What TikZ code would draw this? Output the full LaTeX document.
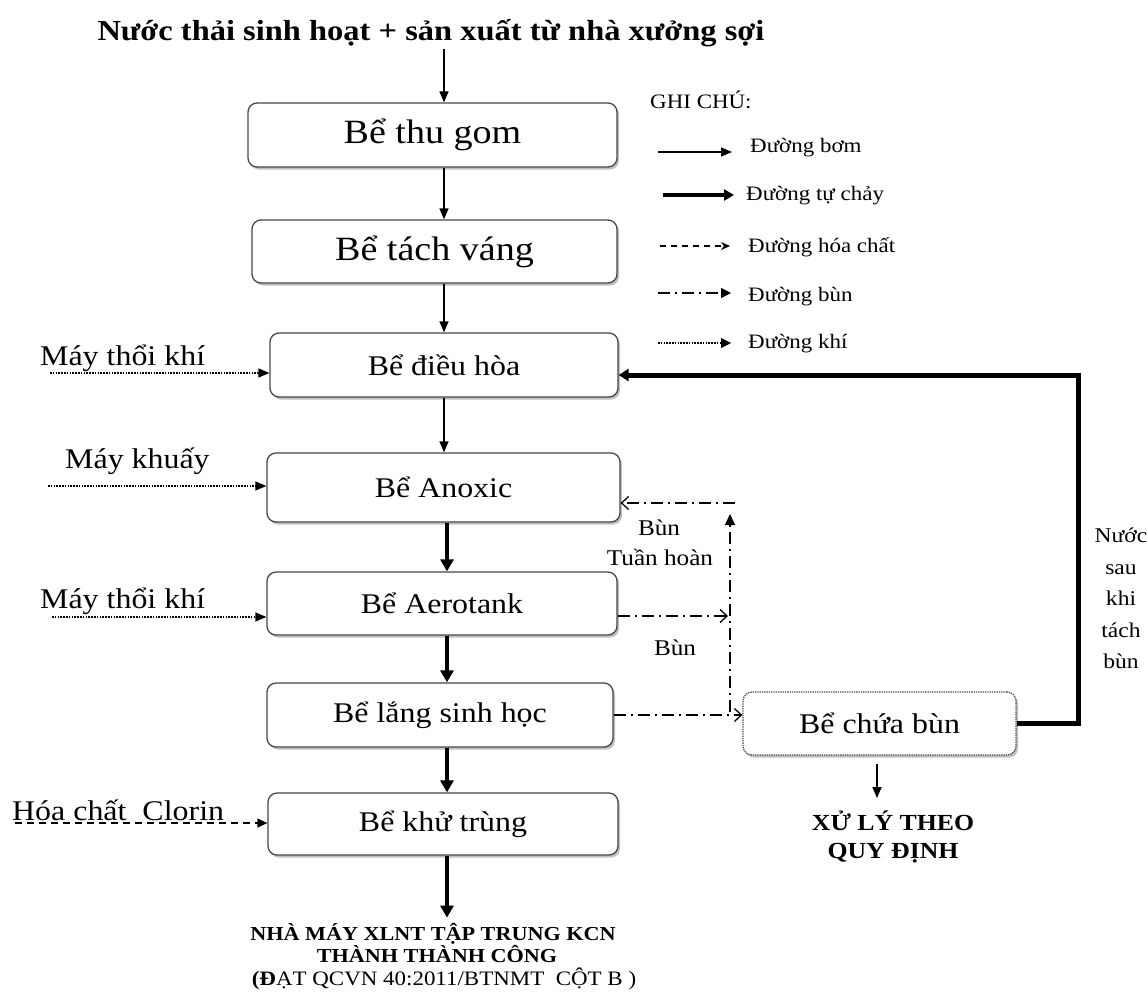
\documentclass[tikz,border=0pt]{standalone}
\usepackage{fontspec}
\setmainfont{Liberation Serif}[FakeStretch=1.12]
\usetikzlibrary{arrows.meta,shadows}

\begin{document}
\begin{tikzpicture}[x=1pt,y=-1pt,
  tank/.style={draw=black!72, line width=1.3pt, rounded corners=9pt, fill=white,
    inner sep=0pt, align=center,
    drop shadow={shadow xshift=2pt,shadow yshift=-2.5pt,fill=black!35,opacity=0.7},
    font=\fontsize{28.5}{34}\selectfont},
  bigtank/.style={tank, font=\fontsize{34}{40}\selectfont},
  lbl/.style={inner sep=0pt, font=\fontsize{28.5}{34}\selectfont},
  small/.style={inner sep=0pt, font=\fontsize{22.5}{27}\selectfont},
  side/.style={inner sep=0pt, font=\fontsize{21}{25}\selectfont, anchor=base},
  legend/.style={inner sep=0pt, font=\fontsize{20.5}{24}\selectfont, anchor=base west},
  boldlbl/.style={inner sep=0pt, font=\bfseries\fontsize{19.8}{23}\selectfont, anchor=base},
  pump/.style={line width=1.3pt, -{Triangle[length=11pt,width=9pt]}},
  gravity/.style={line width=4pt, -{Triangle[length=12pt,width=13pt]}},
  chem/.style={line width=1.3pt, dash pattern=on 7pt off 5pt, -{Triangle[length=10pt,width=9pt]}},
  sludge/.style={line width=1.3pt, dash pattern=on 12pt off 5pt on 2pt off 5pt},
  air/.style={line width=1.3pt, dash pattern=on 1.5pt off 1.3pt, -{Triangle[length=11pt,width=9pt]}},
  barb/.style={-{Straight Barb[length=7pt,width=13pt,line width=1.3pt]}}
]
\useasboundingbox (0,0) rectangle (1147,991);
\fill[white] (0,0) rectangle (1147,991);

% spine used by the vertical flow arrows
\coordinate (sp) at (444,0);
\coordinate (spb) at (447,0);

% heading
\node[inner sep=2pt, anchor=base, font=\bfseries\fontsize{29}{34}\selectfont] (title) at (431,40)
  {Nước thải sinh hoạt + sản xuất từ nhà xưởng sợi};

% treatment tanks
\node[bigtank, minimum width=369pt, minimum height=64pt] (thugom)   at (432.5,135)   {Bể thu gom};
\node[bigtank, minimum width=365pt, minimum height=63pt] (tachvang) at (434.5,251.5) {Bể tách váng};
\node[tank, minimum width=348pt, minimum height=64pt] (dieuhoa)  at (444,365)     {Bể điều hòa};
\node[tank, minimum width=353pt, minimum height=69pt] (anoxic)   at (443.5,487.5) {Bể Anoxic};
\node[tank, minimum width=350pt, minimum height=63pt] (aerotank) at (442,603.5)   {Bể Aerotank};
\node[tank, minimum width=346pt, minimum height=64pt] (lang)     at (440,715)     {Bể lắng sinh học};
\node[tank, minimum width=350pt, minimum height=62pt] (khutrung) at (443,824)     {Bể khử trùng};
\node[tank, densely dotted, minimum width=273pt, minimum height=63pt] (chuabun) at (879.5,723.5) {Bể chứa bùn};

% outlet text
\node[boldlbl] (out1) at (433,940) {NHÀ MÁY XLNT TẬP TRUNG KCN};
\node[boldlbl] (out2) at (437,962) {THÀNH THÀNH CÔNG};
\node[inner sep=0pt, anchor=base, font=\fontsize{20.5}{24}\selectfont] (out3) at (444,985)
  {\textbf{(Đ}ẠT QCVN 40:2011/BTNMT\ \ CỘT B )};

% main flow
\draw[pump] (title.south -| sp) -- (thugom.north -| sp);
\draw[pump] (thugom.south -| sp) -- (tachvang.north -| sp);
\draw[pump] (tachvang.south -| sp) -- (dieuhoa.north -| sp);
\draw[pump] (dieuhoa.south -| sp) -- (anoxic.north -| sp);
\draw[gravity] (anoxic.south -| spb) -- (aerotank.north -| spb);
\draw[gravity] (aerotank.south -| spb) -- (lang.north -| spb);
\draw[gravity] (lang.south -| spb) -- (khutrung.north -| spb);
\draw[gravity] (khutrung.south -| spb) -- ([yshift=5pt]out1.north -| spb);

% air, mixer and chemical inputs
\coordinate (a1) at (50,373);
\coordinate (a2) at (48,486);
\coordinate (a3) at (52,617);
\coordinate (c1) at (15,823);
\draw[air] (a1) -- (a1 -| dieuhoa.west);
\draw[air] (a2) -- (a2 -| anoxic.west);
\draw[air] (a3) -- (a3 -| aerotank.west);
\draw[chem] (c1) -- (c1 -| khutrung.west);
\node[lbl, anchor=base west] (lb1) at (40,365) {Máy thổi khí};
\node[lbl, anchor=base west] (lb2) at (65,468) {Máy khuấy};
\node[lbl, anchor=base west] (lb3) at (40,608) {Máy thổi khí};
\node[lbl, anchor=base west] (lb4) at (12,820) {Hóa chất\ \ Clorin};

% sludge lines
\coordinate (jb) at (730,712);
\coordinate (jt) at (730,514);
\coordinate (rr) at (735,503);
\coordinate (ao) at ([yshift=-12.5pt]aerotank.east);
\draw[sludge, -{Triangle[length=11pt,width=10pt]}] (jb) -- (jt);
\draw[sludge, barb] (rr) -- (rr -| anoxic.east);
\draw[sludge, barb] (ao) -- ([xshift=-2pt]ao -| jb);
\draw[sludge, barb] (lang.east) -- (lang.east -| chuabun.west);
\node[small, anchor=base] (bun1) at (659,535) {Bùn};
\node[small, anchor=base] (bun2) at (660,565) {Tuần hoàn};
\node[small, anchor=base] (bun3) at (675,655) {Bùn};

% water returned from the sludge tank
\coordinate (rt) at (1078,375);
\draw[line width=5pt, -{Triangle[length=10pt,width=12pt]}]
  (chuabun.east) -- (chuabun.east -| rt) -- (rt) -- (rt -| dieuhoa.east);
\node[side] (n1) at (1121,542) {Nước};
\node[side] (n2) at (1121,574) {sau};
\node[side] (n3) at (1121,605) {khi};
\node[side] (n4) at (1121,637) {tách};
\node[side] (n5) at (1121,668) {bùn};

% sludge disposal
\node[inner sep=0pt, anchor=base, font=\bfseries\fontsize{23}{27}\selectfont] (xl1) at (893,830) {XỬ LÝ THEO};
\node[inner sep=0pt, anchor=base, font=\bfseries\fontsize{23}{27}\selectfont] (xl2) at (893,858) {QUY ĐỊNH};
\coordinate (xs) at ([xshift=-2.5pt,yshift=-8pt]chuabun.south);
\draw[pump] (xs) -- ([yshift=12pt]xs |- xl1.north);

% legend
\node[legend] (g0) at (650,108) {GHI CHÚ:};
\node[legend] (g1) at (750,152) {Đường bơm};
\node[legend] (g2) at (746,200) {Đường tự chảy};
\node[legend] (g3) at (748,252) {Đường hóa chất};
\node[legend] (g4) at (748,301) {Đường bùn};
\node[legend] (g5) at (748,348) {Đường khí};
\coordinate (k1) at (658,152);
\coordinate (k2) at (663,195);
\coordinate (k3) at (660,246);
\coordinate (k4) at (658,293);
\coordinate (k5) at (658,343);
\draw[pump] (k1) -- ([xshift=-18pt]k1 -| g1.west);
\draw[gravity, line width=3.5pt, -{Triangle[length=10pt,width=11pt]}] (k2) -- ([xshift=-12pt]k2 -| g2.west);
\draw[line width=1.2pt, dash pattern=on 6pt off 5pt, -{Stealth[length=9pt,width=8pt]}] (k3) -- ([xshift=-18pt]k3 -| g3.west);
\draw[sludge, -{Triangle[length=10pt,width=10pt]}] (k4) -- ([xshift=-17pt]k4 -| g4.west);
\draw[air, line width=1.1pt, -{Triangle[length=10pt,width=10pt]}] (k5) -- ([xshift=-17pt]k5 -| g5.west);
\end{tikzpicture}
\end{document}
